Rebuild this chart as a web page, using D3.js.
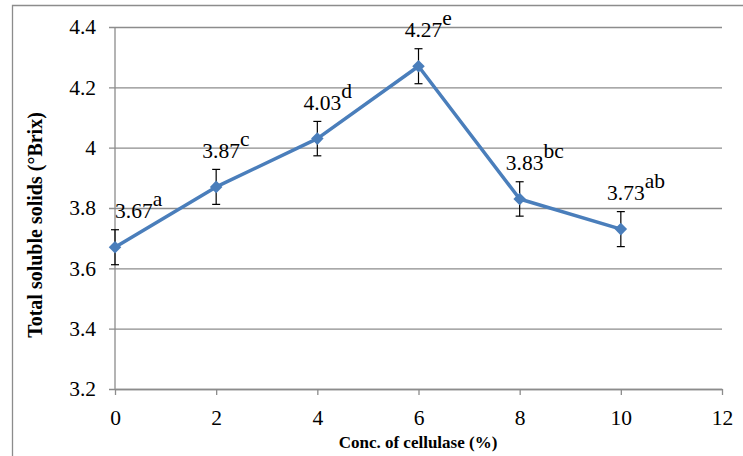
<!DOCTYPE html>
<html>
<head>
<meta charset="utf-8">
<script src="https://cdn.jsdelivr.net/npm/d3@7"></script>
<style>
  body { margin: 0; background: #fff; }
  svg { display: block; font-family: "Liberation Serif", "Times New Roman", serif; }
  svg text { font-family: "Liberation Serif", "Times New Roman", serif; }
</style>
</head>
<body>
<svg id="chart" width="743" height="456"></svg>
<script>
// cellulase concentration (%) vs total soluble solids
const conc = [0, 2, 4, 6, 8, 10];
const tss = [3.67, 3.87, 4.03, 4.27, 3.83, 3.73];
const errs = [0.058, 0.058, 0.057, 0.058, 0.057, 0.058];
const letters = ['a', 'c', 'd', 'e', 'bc', 'ab'];
const xTicks = [0, 2, 4, 6, 8, 10, 12];
const yTicks = [3.2, 3.4, 3.6, 3.8, 4, 4.2, 4.4];

const data = conc.map((c, i) => ({ x: c, y: tss[i], e: errs[i], l: letters[i] }));

const svg = d3.select('#chart');
const plotL = 115, plotR = 722, plotT = 27, plotB = 389;

// outer frame (only top and left visible)
svg.append('path')
  .attr('d', 'M12.5,456 L12.5,5.5 L743,5.5')
  .attr('fill', 'none').attr('stroke', '#8c8c8c').attr('stroke-width', 1.3);

const x = d3.scaleLinear().domain([0, 12]).range([plotL, plotR]);
const y = d3.scaleLinear().domain([3.2, 4.4]).range([plotB, plotT]);

// y axis with gridlines
const yAxis = svg.append('g')
  .attr('transform', `translate(${plotL},0)`)
  .call(d3.axisLeft(y).tickValues(yTicks).tickFormat(d3.format('')).tickSizeInner(-(plotR - plotL)).tickSizeOuter(0).tickPadding(19));
yAxis.attr('font-family', null).attr('font-size', null);
yAxis.select('.domain').remove();
yAxis.selectAll('.tick line').attr('stroke', '#8c8c8c').attr('stroke-width', 1.3).attr('x1', -6);
yAxis.selectAll('.tick text').attr('font-size', 21.5).attr('fill', '#000');
svg.append('line').attr('x1', plotL).attr('x2', plotL).attr('y1', plotT).attr('y2', plotB)
  .attr('stroke', '#8c8c8c').attr('stroke-width', 1.3);

// x axis
const xAxis = svg.append('g')
  .attr('transform', `translate(0,${plotB})`)
  .call(d3.axisBottom(x).tickValues(xTicks).tickSizeInner(6).tickSizeOuter(0).tickPadding(15));
xAxis.attr('font-family', null).attr('font-size', null);
xAxis.select('.domain').attr('stroke', '#8c8c8c').attr('stroke-width', 1.3);
xAxis.selectAll('.tick line').attr('stroke', '#8c8c8c').attr('stroke-width', 1.3);
xAxis.selectAll('.tick text').attr('font-size', 21.5).attr('fill', '#000');

// axis titles
svg.append('text')
  .attr('x', 418).attr('y', 448)
  .attr('text-anchor', 'middle').attr('font-size', 17).attr('font-weight', 'bold')
  .text('Conc. of cellulase (%)');
svg.append('text')
  .attr('transform', 'translate(42,225) rotate(-90)')
  .attr('text-anchor', 'middle').attr('font-size', 20).attr('font-weight', 'bold')
  .text('Total soluble solids (°Brix)');

// error bars
const eb = svg.append('g').selectAll('g').data(data).enter().append('g');
eb.append('line')
  .attr('x1', d => x(d.x)).attr('x2', d => x(d.x))
  .attr('y1', d => y(d.y + d.e)).attr('y2', d => y(d.y - d.e))
  .attr('stroke', '#000').attr('stroke-width', 1.2);
eb.selectAll('.cap').data(d => [d.y + d.e, d.y - d.e].map(v => ({ x: d.x, v })))
  .enter().append('line')
  .attr('x1', d => x(d.x) - 4).attr('x2', d => x(d.x) + 4)
  .attr('y1', d => y(d.v)).attr('y2', d => y(d.v))
  .attr('stroke', '#000').attr('stroke-width', 1.2);

// line
const line = d3.line().x(d => x(d.x)).y(d => y(d.y));
svg.append('path').datum(data)
  .attr('d', line)
  .attr('fill', 'none').attr('stroke', '#4a7ebb').attr('stroke-width', 3.5).attr('stroke-linejoin', 'round');

// diamond markers
svg.append('g').selectAll('path').data(data).enter().append('path')
  .attr('d', d3.symbol().type(d3.symbolDiamond2).size(100))
  .attr('transform', d => `translate(${x(d.x)},${y(d.y)})`)
  .attr('fill', '#4a7ebb');

// value labels with significance letters
const labels = svg.append('g').selectAll('text').data(data).enter().append('text')
  .attr('font-size', 21.5).attr('fill', '#000')
  .attr('y', d => y(d.y) - 29);
labels.append('tspan').attr('class', 'val').text(d => d.y.toFixed(2));
labels.append('tspan').attr('dy', -12).text(d => d.l);
labels.each(function (d) {
  const val = d3.select(this).select('.val').node().getComputedTextLength();
  let start = x(d.x) + 5 - val / 2;
  if (start < plotL) start = plotL;
  d3.select(this).attr('x', start);
});
</script>
</body>
</html>
